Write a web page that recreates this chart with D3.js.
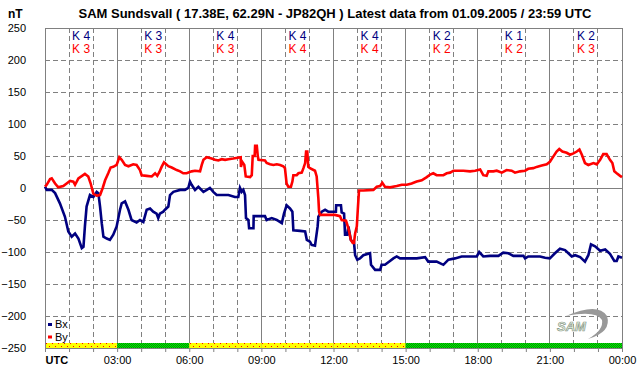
<!DOCTYPE html>
<html lang="en">
<head>
    <meta charset="UTF-8">
    <title>SAM Sundsvall magnetometer</title>
    <script src="https://d3js.org/d3.v7.min.js"></script>
    <style>
        body {
            margin: 0;
            background-color: #ffffff;
        }
        text {
            font-family: 'Liberation Sans', Arial, sans-serif;
        }
    </style>
</head>
<body>
    <script>
        // Data: hours UTC, values in nT
        const bx = [
            [0,2],[0.07,-3],[0.28,-3],[0.42,-8],[0.62,-24],[0.83,-45],[0.97,-68],[1.11,-76],[1.25,-71],[1.39,-79],
            [1.53,-94],[1.6,-92],[1.66,-60],[1.73,-29],[1.87,-11],[2.01,-14],[2.15,-6],[2.22,-8],[2.29,-29],[2.36,-55],
            [2.43,-76],[2.57,-79],[2.7,-81],[2.84,-73],[2.98,-60],[3.12,-34],[3.19,-24],[3.33,-21],[3.47,-34],[3.6,-50],
            [3.81,-54],[3.95,-50],[4.09,-53],[4.23,-34],[4.37,-32],[4.5,-37],[4.64,-40],[4.71,-47],[4.78,-40],[4.92,-37],
            [4.99,-34],[5.13,-29],[5.2,-11],[5.34,-6],[5.62,-3],[5.82,-3],[5.96,0],[6.03,10],[6.1,5],[6.24,-3],
            [6.38,2],[6.59,-6],[6.73,-3],[6.86,0],[7.0,-6],[7.14,-11],[7.63,-11],[7.9,-14],[8.04,-14],[8.11,0],
            [8.18,-6],[8.25,-3],[8.32,-11],[8.36,-47],[8.46,-50],[8.49,-63],[8.67,-63],[8.68,-44],[9.15,-44],[9.22,-50],
            [9.43,-47],[9.64,-50],[9.85,-55],[9.94,-40],[10.05,-27],[10.19,-32],[10.29,-37],[10.33,-66],[10.61,-67],[10.82,-68],
            [10.89,-81],[11.02,-84],[11.09,-89],[11.23,-90],[11.27,-79],[11.34,-60],[11.37,-45],[11.51,-37],[11.65,-34],[11.78,-37],
            [12.1,-37],[12.11,-27],[12.31,-27],[12.34,-38],[12.44,-40],[12.48,-73],[12.57,-73],[12.62,-60],[12.72,-81],[12.8,-84],
            [12.85,-84],[12.9,-105],[12.99,-112],[13.1,-110],[13.24,-105],[13.52,-102],[13.56,-120],[13.73,-128],[13.94,-128],[14.0,-120],
            [14.14,-120],[14.35,-114],[14.49,-110],[14.63,-107],[14.77,-110],[15.46,-110],[15.81,-108],[15.94,-115],[16.29,-115],[16.57,-120],
            [16.78,-112],[17.05,-110],[17.33,-107],[17.96,-107],[18.06,-100],[18.23,-107],[18.51,-106],[18.86,-106],[19.06,-101],[19.27,-102],
            [19.48,-106],[19.9,-106],[19.97,-110],[20.1,-107],[20.59,-107],[20.8,-109],[21.0,-110],[21.21,-102],[21.42,-95],[21.63,-97],
            [21.77,-102],[21.91,-107],[22.05,-105],[22.26,-108],[22.46,-115],[22.6,-105],[22.71,-88],[22.88,-91],[23.09,-98],[23.3,-96],
            [23.5,-103],[23.68,-114],[23.78,-114],[23.85,-107],[24,-109]
        ];
        const by = [
            [0,2],[0.07,5],[0.21,14],[0.28,15],[0.42,7],[0.55,1],[0.76,3],[0.9,7],[1.04,11],[1.18,10],
            [1.25,5],[1.39,15],[1.66,22],[1.8,18],[1.9,7],[2.01,-9],[2.15,-12],[2.29,-11],[2.4,0],[2.5,12],
            [2.63,23],[2.73,32],[2.84,33],[2.98,36],[3.09,48],[3.19,44],[3.33,36],[3.47,34],[3.67,37],[3.81,36],
            [3.95,28],[4.02,20],[4.23,19],[4.44,18],[4.58,23],[4.67,19],[4.76,25],[4.85,33],[4.95,40],[5.13,34],
            [5.27,32],[5.48,28],[5.62,26],[5.75,23],[5.89,23],[6.1,26],[6.24,27],[6.45,26],[6.52,36],[6.59,44],
            [6.73,48],[6.93,46],[7.07,44],[7.21,43],[7.35,45],[7.49,44],[7.63,45],[7.83,46],[8.14,48],[8.15,33],
            [8.2,41],[8.29,36],[8.35,18],[8.53,17],[8.6,20],[8.64,50],[8.72,50],[8.74,66],[8.81,66],[8.85,50],
            [8.88,44],[9.15,43],[9.22,39],[9.36,37],[9.5,36],[9.64,37],[9.78,36],[9.91,34],[9.98,31],[10.05,7],
            [10.12,2],[10.23,2],[10.29,10],[10.33,20],[10.47,20],[10.54,23],[10.68,24],[10.75,31],[10.82,39],[10.86,57],
            [10.91,57],[10.95,33],[11.02,31],[11.23,27],[11.3,18],[11.37,-16],[11.4,-37],[11.44,-42],[12.06,-42],[12.27,-44],
            [12.34,-50],[12.52,-51],[12.62,-63],[12.72,-81],[12.8,-86],[12.85,-86],[12.9,-71],[12.97,-60],[13.01,-34],[13.06,-4],
            [13.24,-4],[13.66,-3],[13.8,2],[13.94,3],[14.03,8],[14.14,2],[14.35,1],[14.63,3],[14.84,5],[15.05,5],
            [15.25,7],[15.46,10],[15.67,12],[15.88,17],[16.02,21],[16.15,23],[16.29,20],[16.57,20],[16.71,23],[16.85,24],
            [16.99,27],[17.4,27],[17.68,26],[17.89,27],[18.1,29],[18.23,20],[18.37,19],[18.44,26],[18.65,26],[18.79,27],
            [19.0,24],[19.2,28],[19.41,27],[19.55,24],[19.76,26],[19.97,27],[20.1,30],[20.31,31],[20.45,33],[20.66,35],
            [20.87,37],[21.0,41],[21.14,49],[21.28,57],[21.39,61],[21.52,57],[21.7,55],[21.84,52],[21.98,54],[22.12,57],
            [22.23,60],[22.33,52],[22.46,39],[22.6,36],[22.81,39],[22.95,37],[23.09,44],[23.22,53],[23.36,53],[23.5,44],
            [23.6,39],[23.68,26],[23.78,23],[23.92,19],[24,17]
        ];

        // K indices per 3-hour block
        const kBx = [4, 3, 4, 4, 4, 2, 1, 2];
        const kBy = [3, 3, 3, 4, 4, 2, 2, 3];
        // activity strip per 3-hour block
        const strip = ["warn", "quiet", "warn", "warn", "warn", "quiet", "quiet", "quiet"];

        const yTicks = [250, 200, 150, 100, 50, 0, -50, -100, -150, -200, -250];
        const xLabels = ["UTC", "03:00", "06:00", "09:00", "12:00", "15:00", "18:00", "21:00", "00:00"];

        const title = "SAM Sundsvall ( 17.38E, 62.29N - JP82QH ) Latest data from 01.09.2005 / 23:59 UTC";

        const W = 642, H = 376;
        const plot = {left: 45, right: 622, top: 28, bottom: 348};

        const x = d3.scaleLinear().domain([0, 24]).range([plot.left, plot.right]);
        const y = d3.scaleLinear().domain([-250, 250]).range([plot.bottom, plot.top]);

        const svg = d3.select("body").append("svg")
            .attr("width", W)
            .attr("height", H);

        // patterns for the activity strip
        const defs = svg.append("defs");
        const warn = defs.append("pattern").attr("id", "warn")
            .attr("patternUnits", "userSpaceOnUse").attr("width", 6).attr("height", 5);
        warn.append("rect").attr("width", 6).attr("height", 5).attr("fill", "#ffff00");
        warn.append("rect").attr("x", 1).attr("y", 1).attr("width", 1).attr("height", 1).attr("fill", "#ff0000");
        warn.append("rect").attr("x", 4).attr("y", 3).attr("width", 1).attr("height", 1).attr("fill", "#ff0000");
        const quiet = defs.append("pattern").attr("id", "quiet")
            .attr("patternUnits", "userSpaceOnUse").attr("width", 2).attr("height", 2);
        quiet.append("rect").attr("width", 2).attr("height", 2).attr("fill", "#00f000");
        quiet.append("rect").attr("width", 1).attr("height", 1).attr("fill", "#008a00");
        quiet.append("rect").attr("x", 1).attr("y", 1).attr("width", 1).attr("height", 1).attr("fill", "#008a00");

        // Title
        svg.append("text")
            .attr("x", 335).attr("y", 18)
            .attr("text-anchor", "middle")
            .style("font-size", "13px").style("font-weight", "bold")
            .text(title);
        svg.append("text")
            .attr("x", 8).attr("y", 18)
            .style("font-size", "12px").style("font-weight", "bold")
            .text("nT");

        // Grid
        const grid = svg.append("g").attr("stroke", "#808080").attr("shape-rendering", "crispEdges");
        grid.selectAll(".hline")
            .data(yTicks.filter(v => Math.abs(v) < 250))
            .enter().append("line")
            .attr("x1", plot.left).attr("x2", plot.right)
            .attr("y1", d => y(d)).attr("y2", d => y(d))
            .attr("stroke-dasharray", d => d === 0 ? null : "5,3");
        grid.selectAll(".vline")
            .data(d3.range(1, 24))
            .enter().append("line")
            .attr("x1", d => x(d)).attr("x2", d => x(d))
            .attr("y1", plot.top).attr("y2", plot.bottom)
            .attr("stroke-dasharray", d => d % 3 === 0 ? null : "5,3");

        // Activity strip
        svg.selectAll(".strip")
            .data(strip)
            .enter().append("rect")
            .attr("x", (d, i) => x(i * 3))
            .attr("width", (d, i) => x(i * 3 + 3) - x(i * 3))
            .attr("y", y(-250) - 5)
            .attr("height", 5)
            .attr("fill", d => "url(#" + d + ")");

        // Plot frame
        svg.append("rect")
            .attr("x", plot.left).attr("y", plot.top)
            .attr("width", plot.right - plot.left).attr("height", plot.bottom - plot.top)
            .attr("fill", "none").attr("stroke", "#808080")
            .attr("shape-rendering", "crispEdges");

        // K labels
        const kg = svg.append("g").style("font-size", "12px").attr("text-anchor", "middle");
        kg.selectAll(".kbx").data(kBx).enter().append("text")
            .attr("x", (d, i) => x(i * 3 + 1.5)).attr("y", 40)
            .attr("fill", "#000080")
            .text(d => "K " + d);
        kg.selectAll(".kby").data(kBy).enter().append("text")
            .attr("x", (d, i) => x(i * 3 + 1.5)).attr("y", 53)
            .attr("fill", "#ff0000")
            .text(d => "K " + d);

        // Lines
        const line = d3.line().x(d => x(d[0])).y(d => y(d[1]));
        svg.append("path").datum(bx)
            .attr("d", line).attr("fill", "none")
            .attr("stroke", "#000080").attr("stroke-width", 2.6);
        svg.append("path").datum(by)
            .attr("d", line).attr("fill", "none")
            .attr("stroke", "#ff0000").attr("stroke-width", 2.6);

        // Y axis
        const yAxis = svg.append("g")
            .attr("transform", "translate(" + plot.left + ",0)")
            .call(d3.axisLeft(y).tickValues(yTicks).tickSize(0).tickPadding(19));
        yAxis.select(".domain").remove();
        yAxis.selectAll("text").style("font-size", "11px").attr("fill", "#000")
            .style("font-family", "'Liberation Sans', Arial, sans-serif");

        // X axis
        const xAxis = svg.append("g")
            .attr("transform", "translate(0," + plot.bottom + ")")
            .call(d3.axisBottom(x).tickValues(d3.range(0, 25)).tickSize(4).tickPadding(4)
                .tickFormat(d => d % 3 === 0 ? xLabels[d / 3] : ""));
        xAxis.select(".domain").remove();
        xAxis.selectAll("line").attr("stroke", "#808080");
        xAxis.selectAll("text").style("font-size", "11px").attr("fill", "#000")
            .style("font-family", "'Liberation Sans', Arial, sans-serif");
        xAxis.selectAll(".tick").filter(d => d === 0).select("text")
            .attr("text-anchor", "start").style("font-weight", "bold");

        // Legend
        const legend = svg.append("g").style("font-size", "11px");
        [["Bx", "#000080"], ["By", "#ff0000"]].forEach((s, i) => {
            legend.append("rect")
                .attr("x", 48).attr("y", 323 + i * 12.5)
                .attr("width", 4).attr("height", 3).attr("fill", s[1]);
            legend.append("text")
                .attr("x", 55).attr("y", 328 + i * 12.5)
                .text(s[0]);
        });

        // SAM logo
        const logo = svg.append("g");
        logo.append("path")
            .attr("d", "M566,316 Q598,302 607,316 Q612,332 588,339 Q604,330 602,320 Q596,310 566,316 Z")
            .attr("fill", "#999999");
        logo.append("text")
            .attr("x", 557).attr("y", 331)
            .style("font-size", "13px").style("font-style", "italic").style("font-weight", "bold")
            .attr("fill", "#eef6e6").attr("stroke", "#8a9a8a").attr("stroke-width", 0.7)
            .text("SAM");
    </script>
</body>
</html>
